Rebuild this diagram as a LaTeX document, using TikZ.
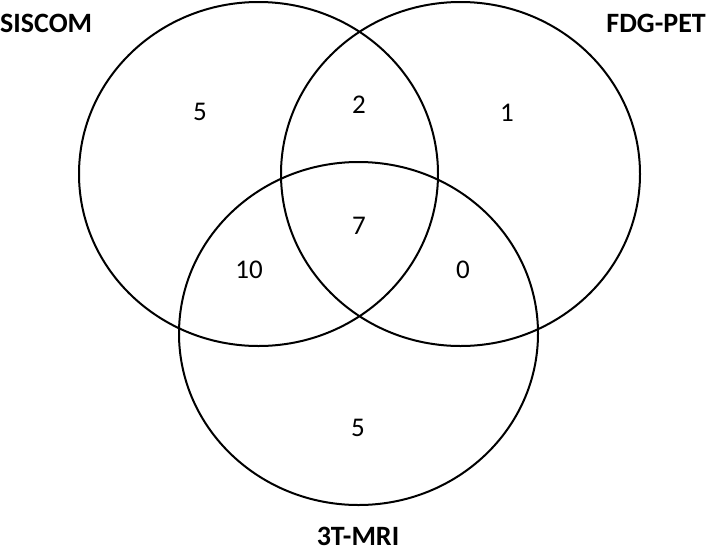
\documentclass[tikz,border=0pt]{standalone}
\usepackage{fontspec}
\setmainfont{Carlito}
\begin{document}
\begin{tikzpicture}[x=1pt,y=-1pt,
  ring/.style={draw=black,line width=2pt},
  num/.style={font=\fontsize{27}{30}\selectfont,inner sep=0pt},
  lab/.style={font=\fontsize{28}{30}\selectfont\bfseries,inner sep=0pt}]
\useasboundingbox (0,0) rectangle (709,552);
\draw[ring] (258.5,174) ellipse [x radius=179.5, y radius=172];
\draw[ring] (460.5,174) ellipse [x radius=179.5, y radius=172];
\draw[ring] (358.5,333.5) ellipse [x radius=179.5, y radius=171.5];
\node[lab,anchor=base west] (siscom) at (0,32) {SISCOM};
\node[lab,anchor=base east] (fdg) at (706,32) {FDG-PET};
\node[lab,anchor=base] (mri) at (358,545) {3T-MRI};
\node[num,anchor=base] (a) at (200,120) {5};
\node[num,anchor=base] (ab) at (359,113) {2};
\node[num,anchor=base] (b) at (507,121) {1};
\node[num,anchor=base] (abc) at (359,234) {7};
\node[num,anchor=base] (ac) at (249,278) {10};
\node[num,anchor=base] (bc) at (463,278) {0};
\node[num,anchor=base] (c) at (358,436) {5};
\end{tikzpicture}
\end{document}
